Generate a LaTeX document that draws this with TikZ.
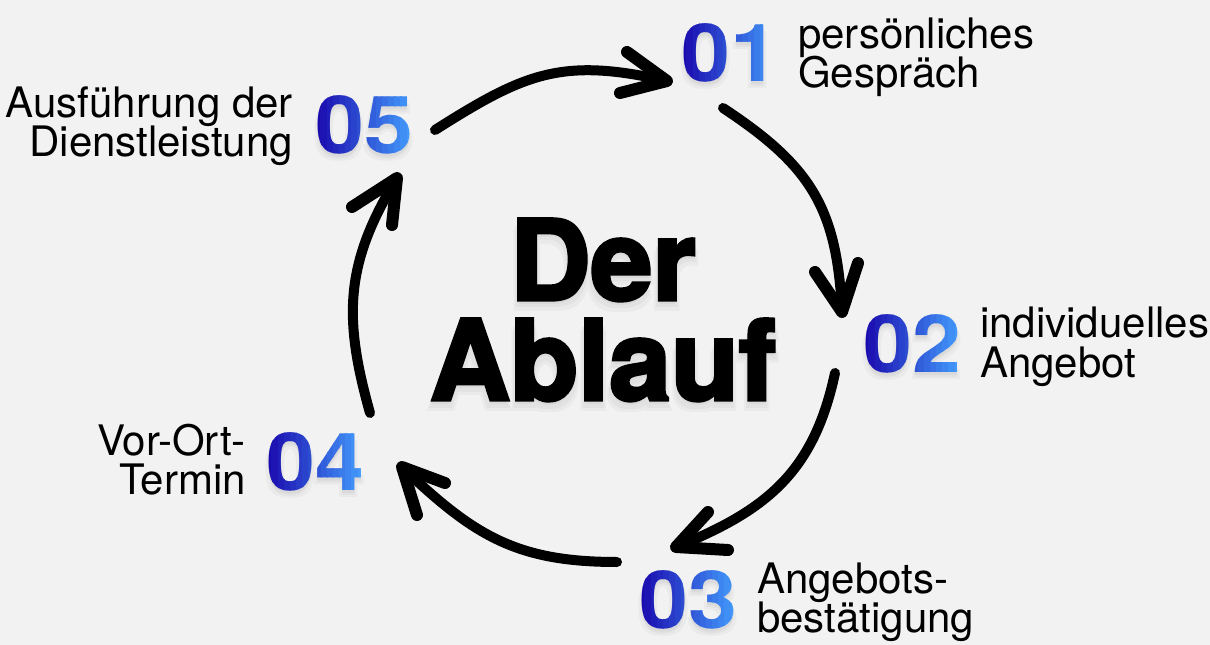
\documentclass[tikz,border=0pt]{standalone}
\usepackage{fontspec}
\setmainfont{TeX Gyre Heros}
\newfontfamily\numfam[FakeStretch=1.1]{TeX Gyre Heros}
\newfontfamily\heavyfam[BoldFeatures={FakeBold=3}]{TeX Gyre Heros}
\newfontfamily\plainfam{TeX Gyre Heros}
\usetikzlibrary{calc}
\definecolor{bg}{HTML}{F2F2F2}
\definecolor{numA}{HTML}{1A0BAE}
\definecolor{numB}{HTML}{4398FA}
\definecolor{shA}{HTML}{EAEAEA}
\definecolor{shB}{HTML}{E2E2E2}
\definecolor{shC}{HTML}{DADADA}
\newcommand{\numstyle}{\numfam\bfseries\fontsize{60}{60}\selectfont}
\newcommand{\labstyle}{\fontsize{31.5}{29.25}\selectfont}
\newcommand{\titstyle}{\heavyfam\bfseries\fontsize{83.5}{75}\selectfont}
\newcommand{\shadstyle}{\plainfam\bfseries\fontsize{83.5}{75}\selectfont}
\newcommand\twol[2]{\vtop{\labstyle\lineskiplimit=-30pt\halign{##\hfil\cr#1\cr#2\cr}}}
\newcommand\twor[2]{\vtop{\labstyle\lineskiplimit=-30pt\halign{\hfil##\cr#1\cr#2\cr}}}
\newcommand\titletext{\vtop{\titstyle\lineskiplimit=-50pt\halign{\hfil##\hfil\cr Der\cr Ablauf\cr}}}
\newcommand\shadtext{\vtop{\shadstyle\lineskiplimit=-50pt\halign{\hfil##\hfil\cr Der\cr Ablauf\cr}}}
\newcommand\stripnum[3]{%
  \node[num] (#1) at #2 {\phantom{#3}};%
  \foreach \dx/\dy/\c in {3/7/shA,-3/7/shA,0/5/shB,0/3/shC}{%
    \node[num] at ($(#1)+(\dx,\dy)$) {\color{\c}#3};}%
  \foreach \i in {0,...,15}{%
    \pgfmathsetmacro\pa{\i/16}\pgfmathsetmacro\pb{(\i+1)/16}%
    \pgfmathsetmacro\pc{100*\i/15}%
    \begin{scope}
      \clip ($(#1.south west)!\pa!(#1.south east)+(\ifnum\i=0 -8\else 0\fi,8)$)
        rectangle ($(#1.north west)!\pb!(#1.north east)+(\ifnum\i=15 8\else 0.3\fi,-8)$);
      \node[num] at (#1) {\color{numB!\pc!numA}#3};
    \end{scope}}}
\begin{document}
\begin{tikzpicture}[x=0.75pt,y=-0.75pt,
  shaft/.style={line width=7.5pt, line cap=round},
  head/.style={line width=9pt, line cap=round, line join=round},
  lab/.style={inner sep=0pt},
  num/.style={inner sep=0pt, font=\numstyle}]
\fill[bg] (0,0) rectangle (1210,645);
\useasboundingbox (0,0) rectangle (1210,645);

% title with soft shadow
\foreach \dx/\dy/\c in {5/11/shA,-5/11/shA,3/8/shB,-3/8/shB,0/5/shC}{
  \node[inner sep=0pt, anchor=base] at ($(603,300)+(\dx,\dy)$) {\color{\c}\shadtext};}
\node[inner sep=0pt, anchor=base] (title) at (603,300) {\color{black}\titletext};

% numbers
\stripnum{n1}{(730,53)}{01}
\stripnum{n2}{(912,344)}{02}
\stripnum{n3}{(688,600)}{03}
\stripnum{n4}{(315,462)}{04}
\stripnum{n5}{(364,125)}{05}

% labels
\node[lab, anchor=base west] (t1) at (798,49) {\twol{persönliches}{Gespräch}};
\node[lab, anchor=base west] (t2) at (980,338) {\twol{individuelles}{Angebot}};
\node[lab, anchor=base west] (t3) at (757,593) {\twol{Angebots-}{bestätigung}};
\node[lab, anchor=base east] (t4) at (246,455) {\twor{Vor-Ort-}{Termin}};
\node[lab, anchor=base east] (t5) at (293,118) {\twor{Ausführung der}{Dienstleistung}};

% arrows
\coordinate (a1s) at (435,130); \coordinate (a1e) at (667,81);
\coordinate (h1a) at (627,52);  \coordinate (h1b) at (620,93);
\coordinate (a2s) at (723,108); \coordinate (a2e) at (842,312);
\coordinate (h2a) at (815,272); \coordinate (h2b) at (858,263);
\coordinate (a3s) at (835,373); \coordinate (a3e) at (676,547);
\coordinate (h3a) at (708,512); \coordinate (h3b) at (728,550);
\coordinate (a4s) at (617,562); \coordinate (a4e) at (402,467);
\coordinate (h4a) at (445,483); \coordinate (h4b) at (417,515);
\coordinate (a5s) at (370,413); \coordinate (a5e) at (397,178);
\coordinate (h5a) at (352,207); \coordinate (h5b) at (392,225);

\draw[shaft] (a1s) .. controls (525,73) and (562,57) .. (a1e);
\draw[head] (h1a) -- (a1e) -- (h1b);
\draw[shaft] (a2s) .. controls (811,166) and (837,208) .. (a2e);
\draw[head] (h2a) -- (a2e) -- (h2b);
\draw[shaft] (a3s) .. controls (814,471) and (768,510) .. (a3e);
\draw[head] (h3a) -- (a3e) -- (h3b);
\draw[shaft] (a4s) .. controls (517,562) and (474,536) .. (a4e);
\draw[head] (h4a) -- (a4e) -- (h4b);
\draw[shaft] (a5s) .. controls (343,317) and (345,263) .. (a5e);
\draw[head] (h5a) -- (a5e) -- (h5b);
\end{tikzpicture}
\end{document}
